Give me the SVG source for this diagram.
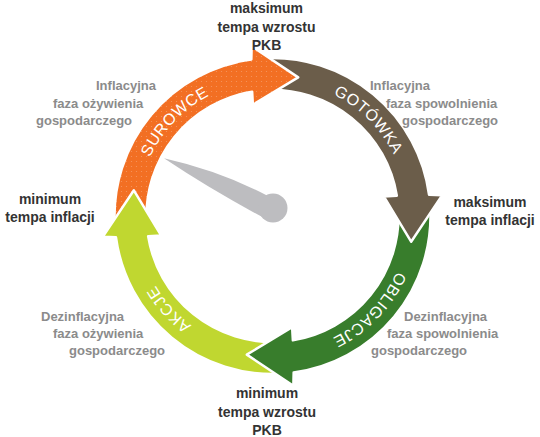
<svg xmlns="http://www.w3.org/2000/svg" xmlns:xlink="http://www.w3.org/1999/xlink" width="540" height="437" viewBox="0 0 540 437">
<style>
.arrow{stroke:#fff;stroke-width:2.5;stroke-linejoin:round}
.c-or{fill:#F26F23}
.c-br{fill:#6B5D4A}
.c-gr{fill:#387D2C}
.c-lg{fill:#C0D730}
.band{font-family:"Liberation Sans",Arial,sans-serif;font-size:16px;fill:#fff;letter-spacing:0.6px}
.dark{font-family:"Liberation Sans",Arial,sans-serif;font-size:14px;font-weight:bold;fill:#333;text-anchor:middle}
.gray{font-family:"Liberation Sans",Arial,sans-serif;font-size:13px;font-weight:bold;fill:#8B8B8B}
</style>
<defs>
<pattern id="dots" width="5" height="5" patternUnits="userSpaceOnUse">
<circle cx="1.5" cy="1.5" r="0.6" fill="#fff" fill-opacity="0.28"/>
</pattern>
<path id="pO" d="M114.72,224.27 A158,158 0 0 1 251.33,59.43 L251.66,46.27 L298.2,77.36 L252.88,104.72 L252.14,91.66 A126,126 0 0 0 146.67,222.59 Z"/>
<path id="pB" d="M264.23,58.22 A158,158 0 0 1 429.07,194.83 L442.23,195.16 L411.14,241.7 L383.78,196.38 L396.84,195.64 A126,126 0 0 0 265.91,90.17 Z"/>
<path id="pG" d="M430.28,207.73 A158,158 0 0 1 293.67,372.57 L293.34,385.73 L246.8,354.64 L292.12,327.28 L292.86,340.34 A126,126 0 0 0 398.33,209.41 Z"/>
<path id="pL" d="M280.77,373.78 A158,158 0 0 1 115.93,237.17 L102.77,236.84 L133.86,190.3 L161.22,235.62 L148.16,236.36 A126,126 0 0 0 279.09,341.83 Z"/>
<path id="tS" d="M141.77,253.49 A136,136 0 0 1 305.4,84.04"/>
<path id="tG" d="M237.3,84.63 A136,136 0 0 1 403.87,251.2"/>
<path id="tO" d="M403.23,178.51 A136,136 0 0 1 239.6,347.96"/>
<path id="tA" d="M300.78,349.03 A136,136 0 0 1 143.16,173.97"/>
<clipPath id="headClip"><rect x="238" y="36" width="72" height="80"/></clipPath>
</defs>

<g id="cycle">
<g id="arrow-surowce">
<use href="#pO" class="arrow c-or"/>
<use href="#pO" fill="url(#dots)"/>
</g>
<g id="arrow-akcje">
<use href="#pL" class="arrow c-lg"/>
</g>
<g id="arrow-obligacje">
<use href="#pG" class="arrow c-gr"/>
</g>
<g id="arrow-gotowka">
<use href="#pB" class="arrow c-br"/>
</g>
<g id="arrow-surowce-head" clip-path="url(#headClip)">
<use href="#pO" class="arrow c-or"/>
<use href="#pO" fill="url(#dots)"/>
</g>
</g>

<g id="band-labels">
<text class="band"><textPath href="#tS" startOffset="50%" text-anchor="middle">SUROWCE</textPath></text>
<text class="band"><textPath href="#tG" startOffset="50%" text-anchor="middle">GOTÓWKA</textPath></text>
<text class="band"><textPath href="#tO" startOffset="50%" text-anchor="middle">OBLIGACJE</textPath></text>
<text class="band"><textPath href="#tA" startOffset="50%" text-anchor="middle">AKCJE</textPath></text>
</g>

<g id="needle" fill="#BDBDC0">
<path d="M164,158.3 Q219.75,170.8 268,196 L266,219 Q212,190.35 164,158.3 Z"/>
<circle cx="273" cy="208" r="14.5"/>
</g>

<g id="node-top">
<text class="dark" x="266.5" y="13">maksimum</text>
<text class="dark" x="266.5" y="31.5">tempa wzrostu</text>
<text class="dark" x="266.5" y="50">PKB</text>
</g>
<g id="node-bottom">
<text class="dark" x="267" y="398">minimum</text>
<text class="dark" x="267" y="416.5">tempa wzrostu</text>
<text class="dark" x="267" y="435">PKB</text>
</g>
<g id="node-left">
<text class="dark" x="50" y="204">minimum</text>
<text class="dark" x="50" y="222">tempa inflacji</text>
</g>
<g id="node-right">
<text class="dark" x="490" y="207">maksimum</text>
<text class="dark" x="490" y="225">tempa inflacji</text>
</g>

<g id="phase-top-left">
<text class="gray" x="96" y="90">Inflacyjna</text>
<text class="gray" x="53" y="107.5">faza ożywienia</text>
<text class="gray" x="36" y="124.5">gospodarczego</text>
</g>
<g id="phase-top-right">
<text class="gray" x="370" y="90">Inflacyjna</text>
<text class="gray" x="386" y="107.5">faza spowolnienia</text>
<text class="gray" x="402" y="124.5">gospodarczego</text>
</g>
<g id="phase-bottom-left">
<text class="gray" x="41" y="321">Dezinflacyjna</text>
<text class="gray" x="53" y="338">faza ożywienia</text>
<text class="gray" x="69" y="355">gospodarczego</text>
</g>
<g id="phase-bottom-right">
<text class="gray" x="404" y="321">Dezinflacyjna</text>
<text class="gray" x="387" y="338">faza spowolnienia</text>
<text class="gray" x="371" y="355">gospodarczego</text>
</g>
</svg>
